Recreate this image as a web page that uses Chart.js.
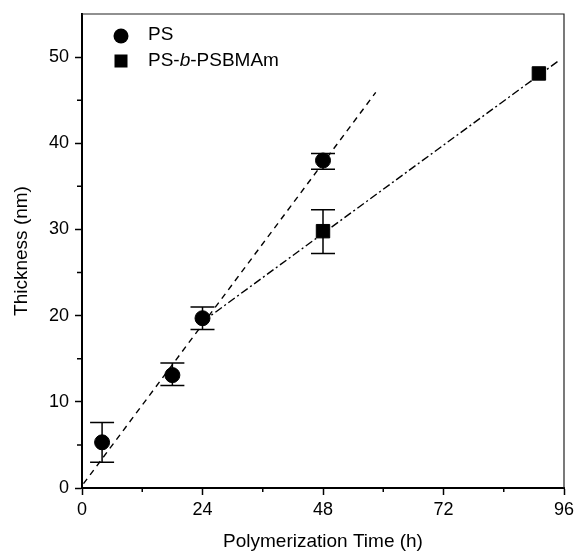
<!DOCTYPE html>
<html>
<head>
<meta charset="utf-8">
<script src="https://cdn.jsdelivr.net/npm/chart.js@4.4.1/dist/chart.umd.min.js"></script>
<style>
  html, body { margin: 0; padding: 0; background: #fff; }
</style>
</head>
<body>
<canvas id="chart" width="577" height="554"></canvas>
<script>
// PS brushes
var psTime = [4, 18, 24, 48];
var psThick = [5.3, 13.1, 19.7, 38.0];
var psErrLow = [3.0, 11.9, 18.4, 37.0];
var psErrHigh = [7.6, 14.5, 21.0, 38.8];

// PS-b-PSBMAm brushes
var blockTime = [48, 91];
var blockThick = [29.8, 48.1];
var blockErrLow = [27.2, 48.1];
var blockErrHigh = [32.3, 48.1];

// linear fits (end points)
var psFitX = [0.3, 58.5];
var psFitY = [0.5, 45.9];
var blockFitX = [24, 95];
var blockFitY = [19.3, 49.6];

// axes
var xTicks = [0, 24, 48, 72, 96];
var xMinor = [12, 36, 60, 84];
var yTicks = [0, 10, 20, 30, 40, 50];
var yMinor = [5, 15, 25, 35, 45];

var FONT = "'Liberation Sans', Arial, sans-serif";

function pts(xs, ys) {
    return xs.map(function (x, i) { return { x: x, y: ys[i] }; });
}

//error bars, minor ticks, box and legend
var extras = {
    id: 'extras',
    afterDatasetsDraw: function (chart) {
        var ctx = chart.ctx, xs = chart.scales.x, ys = chart.scales.y;
        ctx.save();
        ctx.strokeStyle = '#000';
        ctx.lineWidth = 1.5;
        var bars = [[psTime, psErrLow, psErrHigh], [blockTime, blockErrLow, blockErrHigh]];
        bars.forEach(function (b) {
            b[0].forEach(function (t, i) {
                if (b[1][i] === b[2][i]) return;
                var px = xs.getPixelForValue(t);
                var lo = ys.getPixelForValue(b[1][i]);
                var hi = ys.getPixelForValue(b[2][i]);
                ctx.beginPath();
                ctx.moveTo(px, lo); ctx.lineTo(px, hi);
                ctx.moveTo(px - 12, lo); ctx.lineTo(px + 12, lo);
                ctx.moveTo(px - 12, hi); ctx.lineTo(px + 12, hi);
                ctx.stroke();
            });
        });
        ctx.restore();
    },
    afterDraw: function (chart) {
        var ctx = chart.ctx, a = chart.chartArea, xs = chart.scales.x, ys = chart.scales.y;
        ctx.save();
        ctx.strokeStyle = '#000';
        ctx.lineWidth = 1.5;
        ctx.beginPath();
        xMinor.forEach(function (v) {
            var p = xs.getPixelForValue(v);
            ctx.moveTo(p, a.bottom); ctx.lineTo(p, a.bottom + 4);
        });
        yMinor.forEach(function (v) {
            var p = ys.getPixelForValue(v);
            ctx.moveTo(a.left, p); ctx.lineTo(a.left - 5, p);
        });
        ctx.stroke();

        // top and right frame
        ctx.strokeStyle = '#222';
        ctx.lineWidth = 1.2;
        ctx.beginPath();
        ctx.moveTo(a.left, a.top); ctx.lineTo(a.right, a.top); ctx.lineTo(a.right, a.bottom);
        ctx.stroke();

        // legend
        ctx.fillStyle = '#000';
        ctx.beginPath();
        ctx.arc(a.left + 39, a.top + 22, 7.5, 0, Math.PI * 2);
        ctx.fill();
        ctx.fillRect(a.left + 32.5, a.top + 40.5, 13, 13);
        ctx.font = '19px ' + FONT;
        ctx.textBaseline = 'middle';
        ctx.textAlign = 'left';
        var tx = a.left + 66;
        ctx.fillText('PS', tx, a.top + 21);
        var y2 = a.top + 47;
        ctx.fillText('PS-', tx, y2);
        tx += ctx.measureText('PS-').width;
        ctx.font = 'italic 19px ' + FONT;
        ctx.fillText('b', tx, y2);
        tx += ctx.measureText('b').width;
        ctx.font = '19px ' + FONT;
        ctx.fillText('-PSBMAm', tx, y2);
        ctx.restore();
    }
};

new Chart(document.getElementById('chart'), {
    type: 'scatter',
    data: {
        datasets: [{
            label: 'PS',
            data: pts(psTime, psThick),
            pointStyle: 'circle',
            pointRadius: 7.5,
            pointBorderWidth: 1,
            backgroundColor: '#000',
            borderColor: '#000'
        }, {
            label: 'PS-b-PSBMAm',
            data: pts(blockTime, blockThick),
            pointStyle: 'rect',
            pointRadius: 9.5,
            pointBorderWidth: 1,
            backgroundColor: '#000',
            borderColor: '#000'
        }, {
            label: 'PS fit',
            data: pts(psFitX, psFitY),
            showLine: true,
            pointRadius: 0,
            borderColor: '#000',
            borderWidth: 1.4,
            borderDash: [6, 5]
        }, {
            label: 'PS-b-PSBMAm fit',
            data: pts(blockFitX, blockFitY),
            showLine: true,
            pointRadius: 0,
            borderColor: '#000',
            borderWidth: 1.4,
            borderDash: [8, 3, 2, 3]
        }]
    },
    options: {
        responsive: false,
        devicePixelRatio: 1,
        animation: false,
        layout: { padding: { top: 14, right: 13, left: 0, bottom: 0 } },
        plugins: {
            legend: { display: false },
            tooltip: { enabled: false }
        },
        scales: {
            x: {
                type: 'linear',
                min: 0,
                max: 96,
                afterBuildTicks: function (s) { s.ticks = xTicks.map(function (v) { return { value: v }; }); },
                afterFit: function (s) { s.height = 66; s.paddingLeft = 0; s.paddingRight = 0; },
                border: { display: true, color: '#000', width: 2 },
                grid: { drawOnChartArea: false, tickLength: 7, tickColor: '#000', tickWidth: 1.5 },
                ticks: { color: '#000', padding: 4, font: { family: FONT, size: 18 } },
                title: {
                    display: true,
                    text: 'Polymerization Time (h)',
                    color: '#000',
                    font: { family: FONT, size: 19 },
                    padding: { top: 0, bottom: 1 }
                }
            },
            y: {
                type: 'linear',
                min: 0,
                max: 55,
                afterBuildTicks: function (s) { s.ticks = yTicks.map(function (v) { return { value: v }; }); },
                afterFit: function (s) { s.width = 82; s.paddingTop = 0; s.paddingBottom = 0; },
                border: { display: true, color: '#000', width: 2 },
                grid: { drawOnChartArea: false, tickLength: 7, tickColor: '#000', tickWidth: 1.5 },
                ticks: { color: '#000', padding: 6, font: { family: FONT, size: 18 } },
                title: {
                    display: true,
                    text: 'Thickness (nm)',
                    color: '#000',
                    font: { family: FONT, size: 19 },
                    padding: { top: 10, bottom: 0 }
                }
            }
        }
    },
    plugins: [extras]
});
</script>
</body>
</html>
